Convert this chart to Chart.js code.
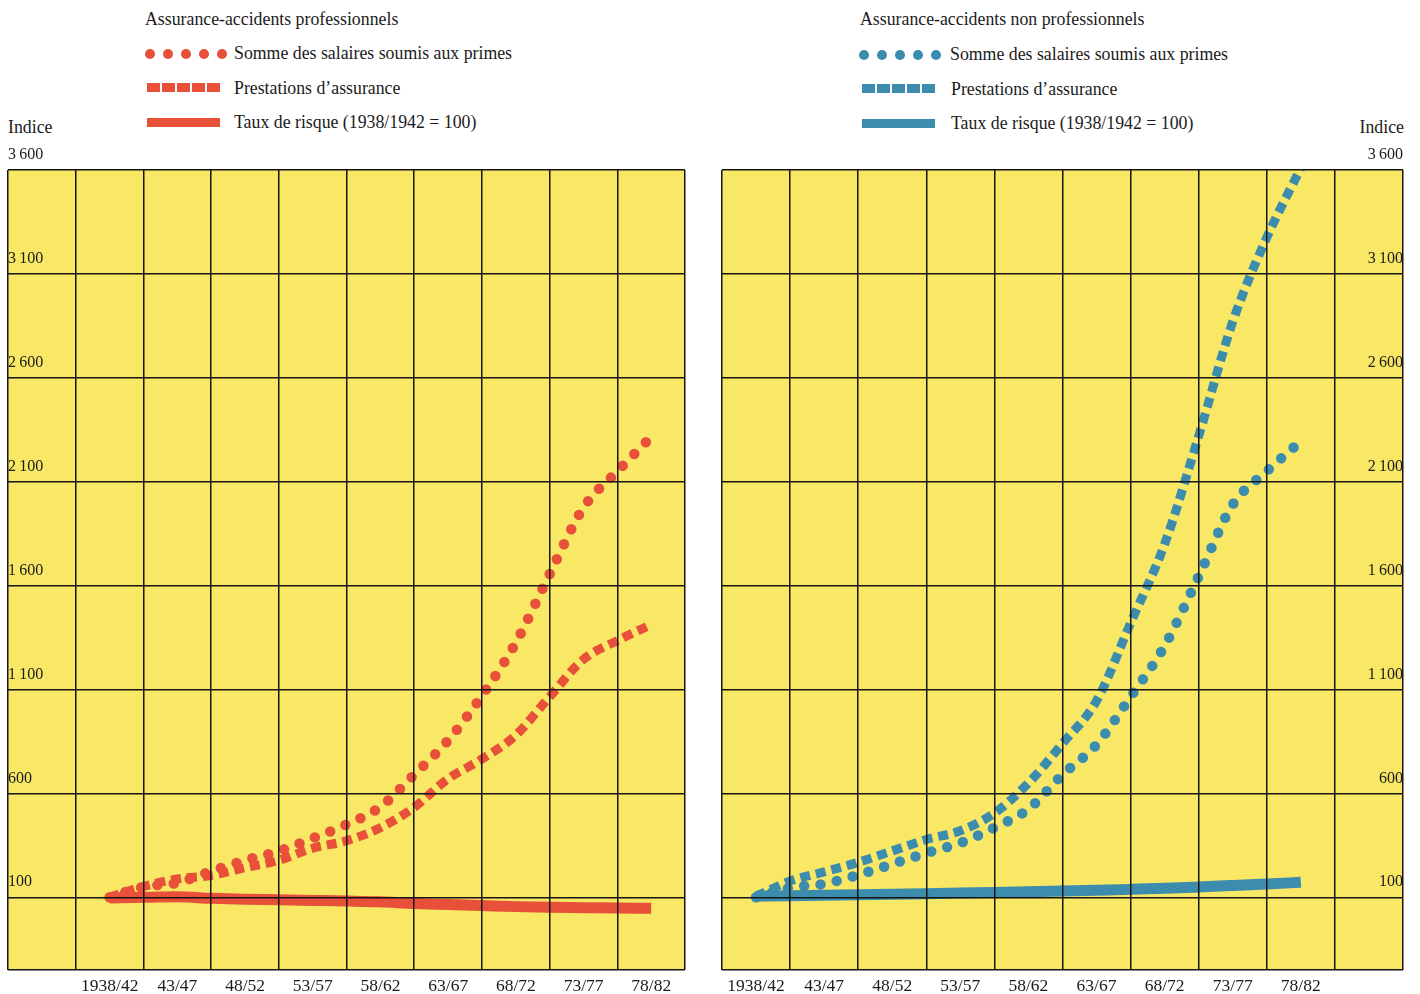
<!DOCTYPE html>
<html lang="fr">
<head>
<meta charset="utf-8">
<title>Assurance-accidents</title>
<script src="https://cdn.jsdelivr.net/npm/chart.js@4.4.1/dist/chart.umd.min.js"></script>
<style>
  html, body { margin: 0; padding: 0; background: #fff; }
  body { width: 1420px; height: 994px; position: relative; overflow: hidden;
         font-family: "Liberation Serif", "DejaVu Serif", serif; color: #1b1b1b; }
  .panel { position: absolute; top: 110px; height: 884px; }
  .txt { position: absolute; white-space: nowrap; line-height: 20px; }
  .titre { font-size: 17.8px; }
  .entree { font-size: 17.8px; }
  .sym { position: absolute; height: 10px; }
  .sym i { position: absolute; top: 0; display: block; }
</style>
</head>
<body>

<div class="txt titre" style="left:145px; top:9px;">Assurance-accidents professionnels</div>
<div class="sym" id="legPro1" style="left:145px; top:49px;"></div>
<div class="txt entree" style="left:234px; top:43px;">Somme des salaires soumis aux primes</div>
<div class="sym" id="legPro2" style="left:147px; top:83px;"></div>
<div class="txt entree" style="left:234px; top:78px;">Prestations d’assurance</div>
<div class="sym" id="legPro3" style="left:147px; top:118px;"></div>
<div class="txt entree" style="left:234px; top:112px;">Taux de risque (1938/1942 = 100)</div>

<div class="txt titre" style="left:860px; top:9px;">Assurance-accidents non professionnels</div>
<div class="sym" id="legNon1" style="left:859px; top:50px;"></div>
<div class="txt entree" style="left:950px; top:44px;">Somme des salaires soumis aux primes</div>
<div class="sym" id="legNon2" style="left:862px; top:84px;"></div>
<div class="txt entree" style="left:951px; top:79px;">Prestations d’assurance</div>
<div class="sym" id="legNon3" style="left:862px; top:119px;"></div>
<div class="txt entree" style="left:951px; top:113px;">Taux de risque (1938/1942 = 100)</div>

<div class="txt entree" style="left:8px; top:117px;">Indice</div>
<div class="txt entree" style="right:16px; top:117px;">Indice</div>

<div class="panel" style="left:0; width:700px;"><canvas id="graphique-pro"></canvas></div>
<div class="panel" style="left:710px; width:710px;"><canvas id="graphique-nonpro"></canvas></div>

<script>
// Périodes (milieu de chaque période quinquennale et points intermédiaires)
var periodes = [1940, 1942.5, 1945, 1947.5, 1950, 1952.5, 1955, 1957.5, 1960,
                1962.5, 1965, 1967.5, 1970, 1972.5, 1975, 1977.5, 1980];
var centresPeriodes = [1940, 1945, 1950, 1955, 1960, 1965, 1970, 1975, 1980];
var etiquettesPeriodes = ['1938/42', '43/47', '48/52', '53/57', '58/62', '63/67', '68/72', '73/77', '78/82'];

var valeursIndice = [100, 600, 1100, 1600, 2100, 2600, 3100, 3600];
var etiquettesIndice = ['100', '600', '1\u2009100', '1\u2009600', '2\u2009100', '2\u2009600', '3\u2009100', '3\u2009600'];

// Assurance-accidents professionnels
var proSalaires     = [100, 150, 170, 225, 278, 322, 384, 450, 535, 690, 855, 1070, 1325, 1655, 1975, 2150, 2315];
var proPrestations  = [100, 152, 188, 205, 242, 278, 336, 372, 435, 533, 670, 765, 880, 1065, 1245, 1335, 1412];
var proRisque       = [97, 100, 102, 95, 90, 88, 85, 82, 78, 70, 65, 60, 55, 52, 50, 48, 47];

// Assurance-accidents non professionnels
var nonproSalaires    = [100, 145, 165, 208, 260, 313, 362, 435, 525, 690, 835, 1065, 1310, 1645, 1990, 2150, 2295];
var nonproPrestations = [105, 178, 222, 268, 323, 378, 420, 505, 650, 840, 1045, 1420, 1800, 2320, 2870, 3275, 3610];
var nonproRisque      = [105, 107, 110, 112, 115, 117, 120, 123, 126, 130, 134, 138, 143, 150, 157, 164, 172];

var rouge = '#e8503a';
var bleu = '#3c8cae';
var jaune = '#f9e766';

function points(valeurs) {
    return periodes.map(function(p, i) { return { x: p, y: valeurs[i] }; });
}

// Fond jaune de la zone du graphique
var fondJaune = {
    id: 'fondJaune',
    beforeDraw: function(chart) {
        var a = chart.chartArea;
        var ctx = chart.ctx;
        ctx.save();
        ctx.fillStyle = jaune;
        ctx.fillRect(a.left, a.top, a.right - a.left, a.bottom - a.top);
        ctx.restore();
    }
};

function creerGraphique(id, salaires, prestations, risque, couleur, xMin, cote, padding) {
    return new Chart(document.getElementById(id), {
        type: 'line',
        data: {
            datasets: [{
                label: 'Somme des salaires soumis aux primes',
                data: points(salaires),
                borderColor: couleur,
                borderWidth: 10.5,
                borderDash: [0, 16.5],
                borderCapStyle: 'round',
                cubicInterpolationMode: 'monotone',
                pointRadius: 0
            }, {
                label: 'Prestations d’assurance',
                data: points(prestations),
                borderColor: couleur,
                borderWidth: 9,
                borderDash: [10, 6],
                borderCapStyle: 'butt',
                cubicInterpolationMode: 'monotone',
                pointRadius: 0
            }, {
                label: 'Taux de risque (1938/1942 = 100)',
                data: points(risque),
                borderColor: couleur,
                borderWidth: 11,
                borderCapStyle: 'butt',
                cubicInterpolationMode: 'monotone',
                pointRadius: 0
            }]
        },
        options: {
            responsive: false,
            animation: false,
            events: [],
            layout: { padding: padding },
            plugins: { legend: { display: false }, tooltip: { enabled: false } },
            scales: {
                x: {
                    type: 'linear',
                    min: xMin,
                    max: xMin + 50,
                    afterBuildTicks: function(s) {
                        var t = [];
                        for (var v = xMin; v <= xMin + 50; v += 5) t.push({ value: v });
                        s.ticks = t;
                    },
                    afterFit: function(s) {
                        s.height = 24;
                        s.paddingLeft = 0;
                        s.paddingRight = 0;
                    },
                    grid: { color: '#151515', lineWidth: 1.5, drawTicks: false, z: 1 },
                    border: { display: false },
                    ticks: {
                        autoSkip: false,
                        maxRotation: 0,
                        labelOffset: 34,
                        padding: 6,
                        color: '#1b1b1b',
                        font: { family: '"Liberation Serif", serif', size: 17.5 },
                        callback: function(v) {
                            var k = centresPeriodes.indexOf(v + 2.5);
                            return k >= 0 ? etiquettesPeriodes[k] : '';
                        }
                    }
                },
                y: {
                    type: 'linear',
                    position: cote,
                    min: -250,
                    max: 3600,
                    afterBuildTicks: function(s) {
                        s.ticks = [-250].concat(valeursIndice).map(function(v) { return { value: v }; });
                    },
                    afterFit: function(s) {
                        s.width = 0;
                        s.paddingTop = 0;
                        s.paddingBottom = 0;
                    },
                    grid: { color: '#151515', lineWidth: 1.5, drawTicks: false, z: 1 },
                    border: { display: false },
                    ticks: {
                        autoSkip: false,
                        mirror: true,
                        padding: 0,
                        labelOffset: -15,
                        color: '#1b1b1b',
                        font: { family: '"Liberation Serif", serif', size: 16 },
                        callback: function(v) {
                            var k = valeursIndice.indexOf(v);
                            return k >= 0 ? etiquettesIndice[k] : '';
                        }
                    }
                }
            }
        },
        plugins: [fondJaune]
    });
}

var canvasPro = document.getElementById('graphique-pro');
canvasPro.width = 700; canvasPro.height = 884;
var canvasNonpro = document.getElementById('graphique-nonpro');
canvasNonpro.width = 710; canvasNonpro.height = 884;

creerGraphique('graphique-pro', proSalaires, proPrestations, proRisque, rouge, 1932.5, 'left',
    { left: 8, right: 15, top: 60, bottom: 0 });
creerGraphique('graphique-nonpro', nonproSalaires, nonproPrestations, nonproRisque, bleu, 1937.5, 'right',
    { left: 12, right: 17, top: 60, bottom: 0 });

// Symboles de la légende
function symboles(id, type, couleur) {
    var el = document.getElementById(id);
    var html = '';
    if (type === 'points') {
        for (var i = 0; i < 5; i++) {
            html += '<i style="left:' + (i * 18) + 'px;width:10px;height:10px;border-radius:5px;background:' + couleur + '"></i>';
        }
    } else if (type === 'tirets') {
        for (var j = 0; j < 5; j++) {
            html += '<i style="left:' + (j * 15) + 'px;width:13px;height:9px;background:' + couleur + '"></i>';
        }
    } else {
        html = '<i style="left:0;width:73px;height:9px;background:' + couleur + '"></i>';
    }
    el.innerHTML = html;
}
symboles('legPro1', 'points', rouge);
symboles('legPro2', 'tirets', rouge);
symboles('legPro3', 'plein', rouge);
symboles('legNon1', 'points', bleu);
symboles('legNon2', 'tirets', bleu);
symboles('legNon3', 'plein', bleu);
</script>
</body>
</html>
